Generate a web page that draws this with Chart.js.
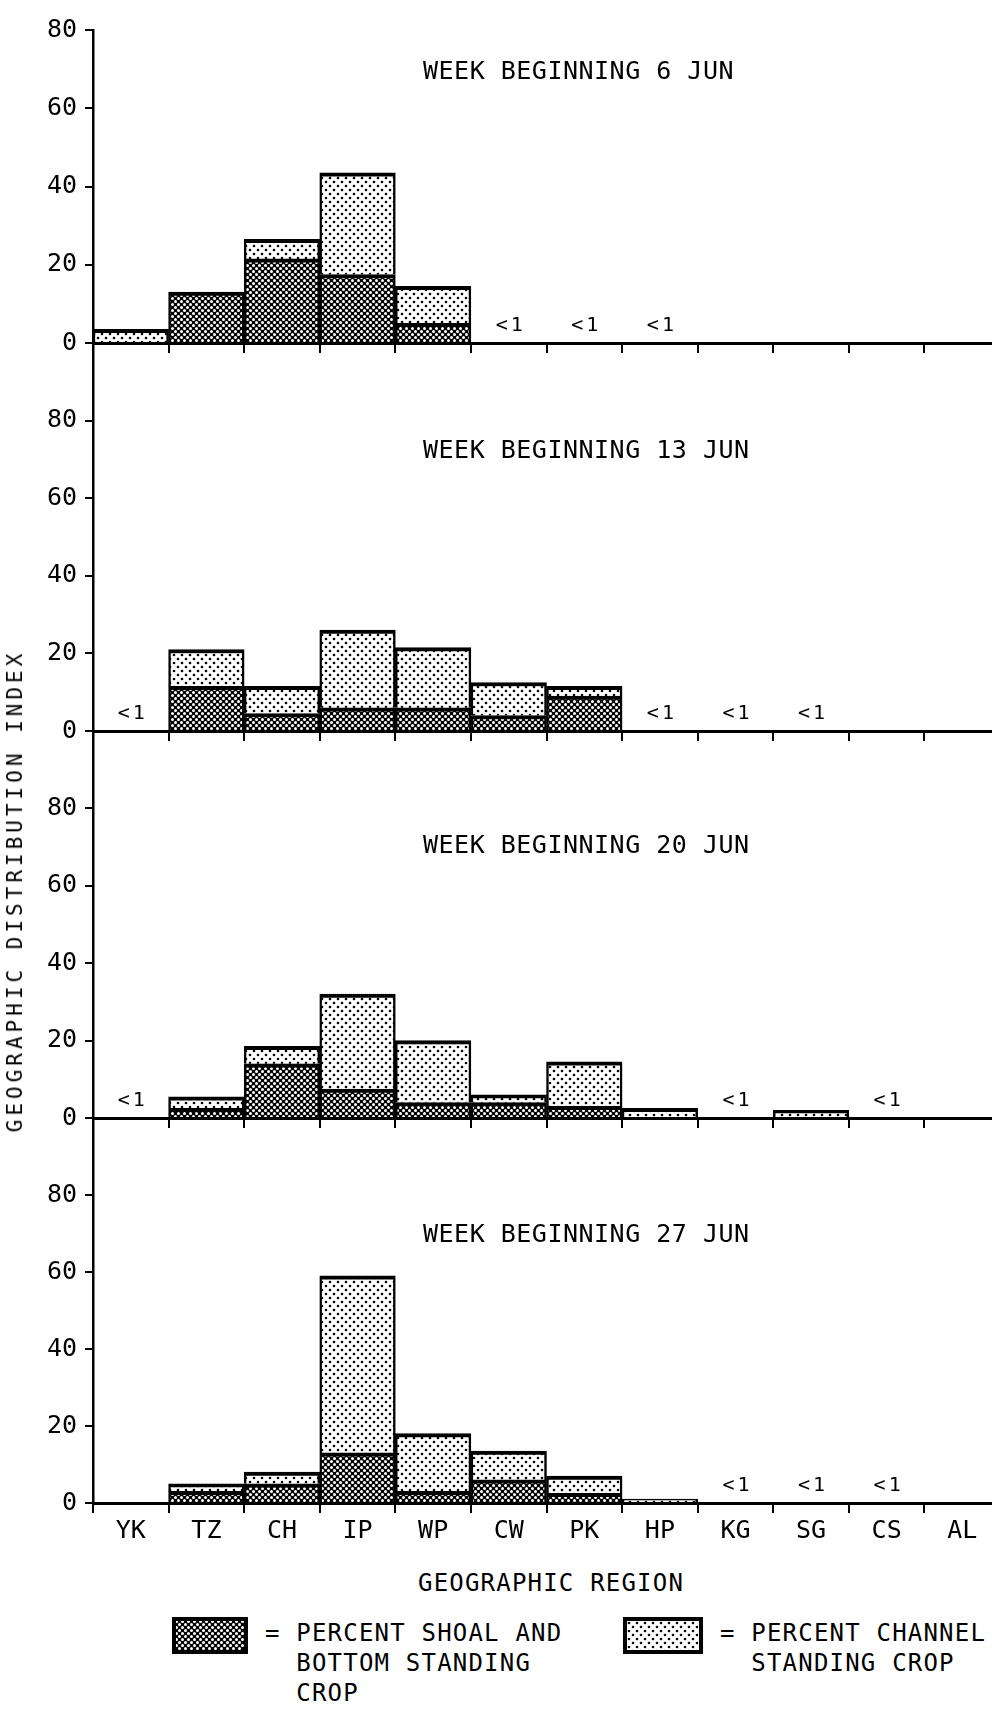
<!DOCTYPE html>
<html>
<head>
<meta charset="utf-8">
<script src="https://cdn.jsdelivr.net/npm/chart.js@4.4.1/dist/chart.umd.min.js"></script>
<style>
  html, body { margin: 0; padding: 0; width: 992px; height: 1712px; overflow: hidden; background: #fff; }
  body { position: relative; font-family: "DejaVu Sans Mono", monospace; color: #000; }
  canvas.panel { position: absolute; left: 0; }
  .ytitle { position: absolute; left: 15px; top: 891px; transform: translate(-50%, -50%) rotate(-90deg);
            white-space: nowrap; font-size: 21px; letter-spacing: 4px; line-height: 24px; }
  .xtitle { position: absolute; left: 418px; top: 1568px; font-size: 24px; letter-spacing: 1.2px; line-height: 30px; white-space: nowrap; }
  .swatch { position: absolute; }
  .ltext { position: absolute; font-size: 24px; letter-spacing: 1.2px; line-height: 30px; white-space: pre; }
</style>
</head>
<body>
<canvas id="p1" class="panel"></canvas>
<canvas id="p2" class="panel"></canvas>
<canvas id="p3" class="panel"></canvas>
<canvas id="p4" class="panel"></canvas>
<div class="ytitle">GEOGRAPHIC DISTRIBUTION INDEX</div>
<div class="xtitle">GEOGRAPHIC REGION</div>
<canvas id="sw1" class="swatch" width="76" height="37" style="left:172px;top:1617px"></canvas>
<div class="ltext" style="left:265px;top:1618px">= PERCENT SHOAL AND
  BOTTOM STANDING
  CROP</div>
<canvas id="sw2" class="swatch" width="80" height="37" style="left:623px;top:1617px"></canvas>
<div class="ltext" style="left:720px;top:1618px">= PERCENT CHANNEL
  STANDING CROP</div>
<script>
// regions along the river, left to right
const regions = ['YK', 'TZ', 'CH', 'IP', 'WP', 'CW', 'PK', 'HP', 'KG', 'SG', 'CS', 'AL'];
const weekTitles = ['WEEK BEGINNING 6 JUN', 'WEEK BEGINNING 13 JUN', 'WEEK BEGINNING 20 JUN', 'WEEK BEGINNING 27 JUN'];

// shoal and bottom part (lower) and channel part (upper) of each stacked bar
const shoal6   = [0,   13,  21.5, 17.5, 5,    null, null, null, null, null, null, null];
const channel6 = [3.5, 0,   5,    26,   9.5,  null, null, null, null, null, null, null];
const lt6 = ['CW', 'PK', 'HP'];

const shoal13   = [null, 11.5, 4.5, 6,  6,    4,   9,   null, null, null, null, null];
const channel13 = [null, 9.5,  7,   20, 15.5, 8.5, 2.5, null, null, null, null, null];
const lt13 = ['YK', 'HP', 'KG', 'SG'];

const shoal20   = [null, 2.5, 14,  7.5,  4,  4, 3,    0,   null, 0, null, null];
const channel20 = [null, 3,   4.5, 24.5, 16, 2, 11.5, 2.5, null, 2, null, null];
const lt20 = ['YK', 'KG', 'CS'];

const shoal27   = [null, 3, 5, 13, 3,  6,   2.5, 0, null, null, null, null];
const channel27 = [null, 2, 3, 46, 15, 7.5, 4.5, 1, null, null, null, null];
const lt27 = ['KG', 'SG', 'CS'];

const yTicks = [0, 20, 40, 60, 80];

Chart.defaults.font.family = '"DejaVu Sans Mono", monospace';
Chart.defaults.color = '#000';

function makePattern(bg, fg, size, r, pts) {
  const c = document.createElement('canvas');
  c.width = c.height = size;
  const g = c.getContext('2d');
  g.fillStyle = bg;
  g.fillRect(0, 0, size, size);
  g.fillStyle = fg;
  pts.forEach(([px, py]) => { g.beginPath(); g.arc(px, py, r, 0, Math.PI * 2); g.fill(); });
  return g.createPattern(c, 'repeat');
}
const shoalPat = makePattern('#000', '#fff', 6, 1.5, [[1.5, 1.5], [4.5, 4.5]]);
const channelPat = makePattern('#fff', '#000', 8, 1.3, [[2, 2], [6, 6]]);

const panelText = {
  id: 'panelText',
  afterDatasetsDraw(chart, args, opts) {
    const { ctx, scales: { x, y }, chartArea } = chart;
    const base = y.getPixelForValue(0);
    ctx.save();
    ctx.fillStyle = '#000';
    ctx.textBaseline = 'middle';
    ctx.font = '25px "DejaVu Sans Mono"';
    ctx.letterSpacing = '0.5px';
    ctx.textAlign = 'left';
    ctx.fillText(opts.title, chartArea.left + 330, base - opts.titleUp);
    ctx.font = '20px "DejaVu Sans Mono"';
    ctx.letterSpacing = '3px';
    ctx.textAlign = 'center';
    opts.lt.forEach(r => ctx.fillText('<1', x.getPixelForValue(regions.indexOf(r)) + 2, base - 17));
    ctx.restore();
  }
};

const panels = [
  { id: 'p1', areaTop: 30,   base: 343,  max: 80,  xh: 30, shoal: shoal6,  channel: channel6,  lt: lt6,  title: weekTitles[0], titleUp: 271 },
  { id: 'p2', areaTop: 343,  base: 731,  max: 100, xh: 30, shoal: shoal13, channel: channel13, lt: lt13, title: weekTitles[1], titleUp: 280 },
  { id: 'p3', areaTop: 731,  base: 1118, max: 100, xh: 30, shoal: shoal20, channel: channel20, lt: lt20, title: weekTitles[2], titleUp: 272 },
  { id: 'p4', areaTop: 1118, base: 1503, max: 100, xh: 50, shoal: shoal27, channel: channel27, lt: lt27, title: weekTitles[3], titleUp: 268 }
];

function barSet(label, data, pat) {
  return {
    label: label,
    data: data,
    backgroundColor: pat,
    borderColor: '#000',
    borderWidth: { top: 4, left: 2.5, right: 2.5, bottom: 0 },
    borderSkipped: 'start',
    barPercentage: 1,
    categoryPercentage: 1
  };
}

panels.forEach((p, i) => {
  const cv = document.getElementById(p.id);
  const padTop = 30;
  const top = p.areaTop - padTop;
  cv.width = 1000;
  cv.height = p.base - top + p.xh;
  cv.style.top = top + 'px';
  const last = i === panels.length - 1;
  new Chart(cv, {
    type: 'bar',
    data: {
      labels: regions,
      datasets: [
        barSet('PERCENT SHOAL AND BOTTOM STANDING CROP', p.shoal, shoalPat),
        barSet('PERCENT CHANNEL STANDING CROP', p.channel, channelPat)
      ]
    },
    options: {
      responsive: false,
      animation: false,
      layout: { padding: { top: padTop, left: 0, right: 0, bottom: 0 } },
      plugins: {
        legend: { display: false },
        tooltip: { enabled: false },
        panelText: { title: p.title, titleUp: p.titleUp, lt: p.lt }
      },
      scales: {
        x: {
          stacked: true,
          grid: { display: true, drawOnChartArea: false, drawTicks: true, tickLength: 10, color: '#000', lineWidth: 2, offset: true },
          border: { display: true, color: '#000', width: 3 },
          ticks: { display: last, font: { size: 25 }, padding: 3, maxRotation: 0, autoSkip: false },
          afterFit: s => { s.height = p.xh; }
        },
        y: {
          stacked: true,
          min: 0,
          max: p.max,
          afterBuildTicks: s => { s.ticks = yTicks.map(v => ({ value: v })); },
          grid: { display: true, drawOnChartArea: false, drawTicks: true, tickLength: 8, color: '#000', lineWidth: 2 },
          border: { display: true, color: '#000', width: 2.5 },
          ticks: { font: { size: 25 }, padding: 8 },
          afterFit: s => { s.width = 93; }
        }
      }
    },
    plugins: [panelText]
  });
});

function drawSwatch(id, pat) {
  const c = document.getElementById(id);
  const g = c.getContext('2d');
  g.fillStyle = pat;
  g.fillRect(0, 0, c.width, c.height);
  g.strokeStyle = '#000';
  g.lineWidth = 4;
  g.strokeRect(2, 2, c.width - 4, c.height - 4);
}
drawSwatch('sw1', shoalPat);
drawSwatch('sw2', channelPat);
</script>
</body>
</html>
